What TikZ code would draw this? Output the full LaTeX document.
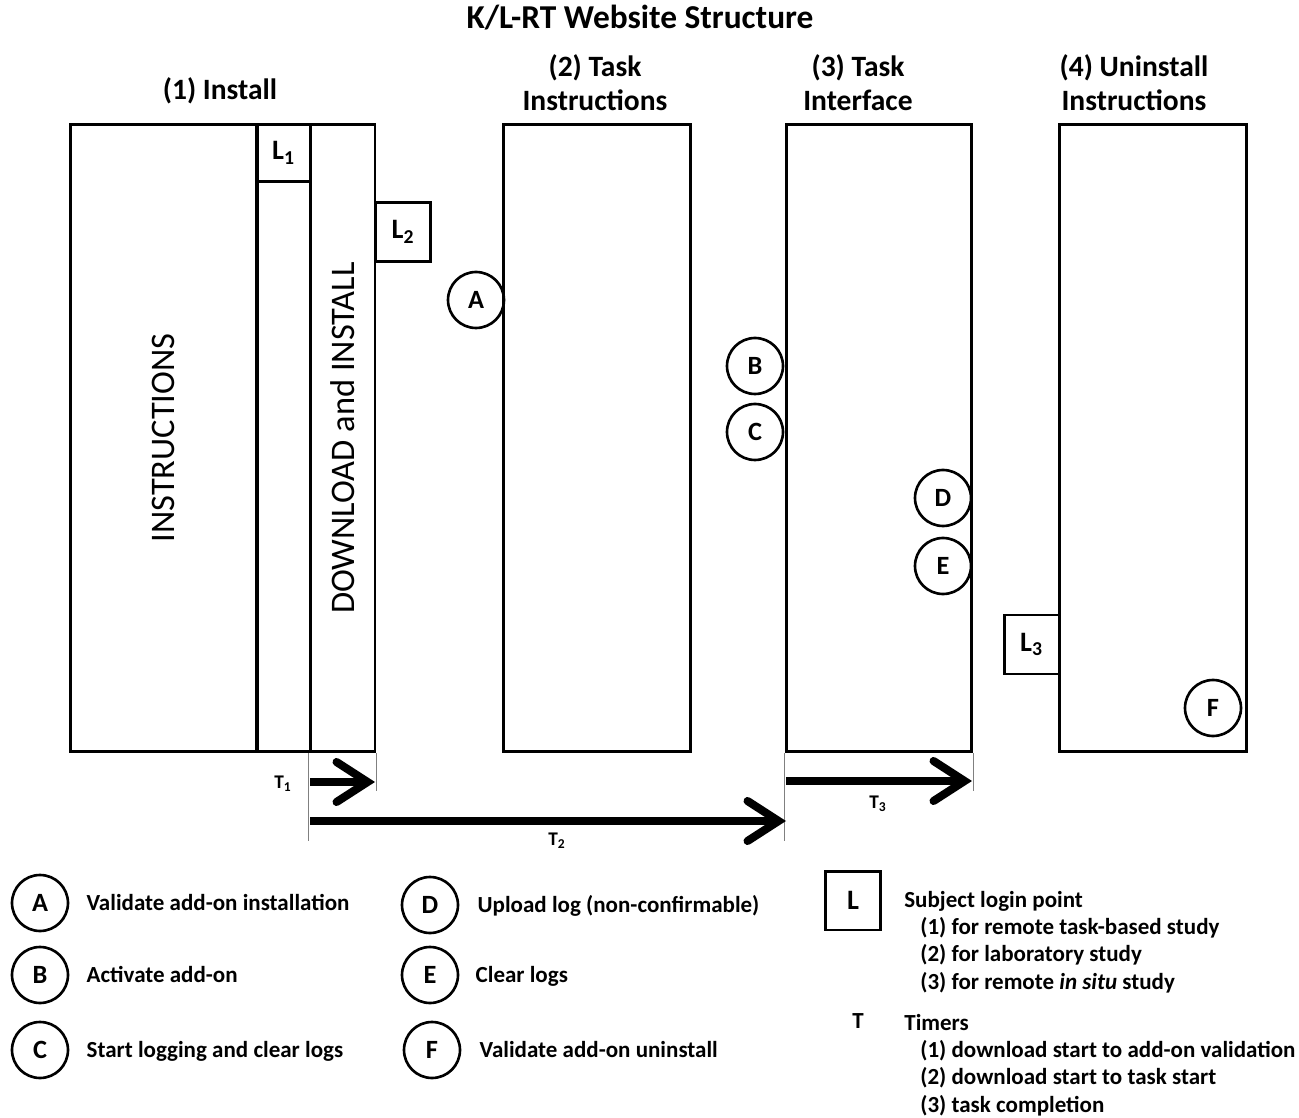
\documentclass[tikz,border=0pt]{standalone}
\usepackage{fontspec}
\setmainfont{Carlito}
\usetikzlibrary{arrows.meta,positioning}

\begin{document}
\begin{tikzpicture}[
  x=0.02cm, y=-0.02cm,
  page/.style={draw, line width=1.7pt, rectangle, inner sep=0pt,
    minimum height=12.56cm},
  login/.style={draw, line width=1.7pt, minimum width=1.1cm,
    minimum height=1.18cm, inner sep=0pt, font=\fontsize{16}{18}\selectfont\bfseries},
  point/.style={draw, circle, line width=1.5pt, minimum size=1.12cm,
    inner sep=0pt, font=\fontsize{15}{17}\selectfont\bfseries},
  head/.style={align=center, font=\fontsize{16.8}{19.3}\selectfont\bfseries},
  vtext/.style={rotate=90, font=\fontsize{19.6}{22}\selectfont},
  legend/.style={anchor=west, inner sep=0pt, text height=8.4pt,
    text depth=0pt, font=\fontsize{13.1}{15}\selectfont\bfseries},
  tlabel/.style={inner sep=0pt, font=\fontsize{11}{13}\selectfont\bfseries},
  timer/.style={line width=4.6pt,
    -{Straight Barb[length=0.62cm, width=0.8cm, line cap=round]}},
  tick/.style={gray, line width=0.8pt}
]
  \useasboundingbox (0,0) rectangle (1299,1118);

  % headings
  \node[head, font=\fontsize{19}{22}\selectfont\bfseries] (title) at (640,18)
    {K/L-RT Website Structure};
  \node[head] (h1) at (220,91) {(1) Install};
  \node[head] (h2) at (595,83) {(2) Task\\Instructions};
  \node[head] (h3) at (858,83) {(3) Task\\Interface};
  \node[head] (h4) at (1134,83) {(4) Uninstall\\Instructions};

  % (1) install column
  \node[page, minimum width=3.74cm] (instr) at (163.5,438) {};
  \node[page, minimum width=1.06cm] (strip) at (283.5,438) {};
  \node[page, minimum width=1.3cm] (download) at (342.5,438) {};
  \node[vtext] (instrtxt) at (instr) {INSTRUCTIONS};
  \node[vtext] (downtxt) at (download) {DOWNLOAD and INSTALL};
  \node[login, minimum width=1.06cm, minimum height=1.16cm] (l1) at (283.5,153)
    {L\textsubscript{1}};
  \node[login] (l2) at (403,232) {L\textsubscript{2}};

  % other pages
  \node[page, minimum width=3.76cm] (taskinstr) at (597,438) {};
  \node[page, minimum width=3.72cm] (taskint) at (879,438) {};
  \node[page, minimum width=3.76cm] (uninstall) at (1153,438) {};
  \node[login] (l3) at (1031.5,644.5) {L\textsubscript{3}};

  % check points
  \node[point] (pa) at (476,300) {A};
  \node[point] (pb) at (755,366) {B};
  \node[point] (pc) at (755,432) {C};
  \node[point] (pd) at (943,498) {D};
  \node[point] (pe) at (943,566) {E};
  \node[point] (pf) at (1213,708) {F};

  % timers
  \coordinate (t1a) at (310,782);
  \coordinate (t1b) at (375,782);
  \coordinate (t2a) at (310,821);
  \coordinate (t2b) at (786,821);
  \coordinate (t3a) at (786,781);
  \coordinate (t3b) at (972,781);
  \draw[tick] (download.south west) -- ++(0,88);
  \draw[tick] (download.south east) -- ++(0,38);
  \draw[tick] (taskint.south west) -- ++(0,88);
  \draw[tick] (taskint.south east) -- ++(0,38);
  \draw[timer] (t1a) -- (t1b);
  \draw[timer] (t2a) -- (t2b);
  \draw[timer] (t3a) -- (t3b);
  \node[tlabel] (lt1) at (283,784) {T\textsubscript{1}};
  \node[tlabel] (lt2) at (557,841) {T\textsubscript{2}};
  \node[tlabel] (lt3) at (878,804) {T\textsubscript{3}};

  % legend
  \node[point] (la) at (40,903) {A};
  \node[point] (lb) at (40,975) {B};
  \node[point] (lc) at (40,1050) {C};
  \node[legend, right=0.34cm of la] {Validate add-on installation};
  \node[legend, right=0.34cm of lb] {Activate add-on};
  \node[legend, right=0.34cm of lc] {Start logging and clear logs};
  \node[point] (ld) at (430,905) {D};
  \node[point] (le) at (430,975) {E};
  \node[point] (lf) at (432,1050) {F};
  \node[legend, right=0.36cm of ld] {Upload log (non-confirmable)};
  \node[legend, right=0.32cm of le] {Clear logs};
  \node[legend, right=0.36cm of lf] {Validate add-on uninstall};

  \node[login] (ll) at (853,900.5) {L};
  \node[legend] (lhead) at (904,900) {Subject login point};
  \node[legend] (lone) at (920,927) {(1) for remote task-based study};
  \node[legend] (ltwo) at (920,954) {(2) for laboratory study};
  \node[legend] (lthree) at (920,982) {(3) for remote \textit{in situ} study};
  \node[legend, anchor=center] (lt) at (858,1021) {T};
  \node[legend] (thead) at (904,1023) {Timers};
  \node[legend] (tone) at (920,1050) {(1) download start to add-on validation};
  \node[legend] (ttwo) at (920,1077) {(2) download start to task start};
  \node[legend] (tthree) at (920,1105) {(3) task completion};
\end{tikzpicture}
\end{document}
